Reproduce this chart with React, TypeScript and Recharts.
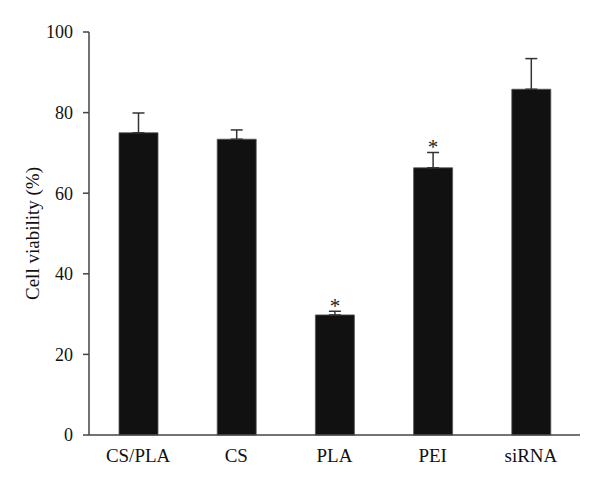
import { Bar, BarChart, ErrorBar, LabelList, XAxis, YAxis } from 'recharts';

const groups = ['CS/PLA', 'CS', 'PLA', 'PEI', 'siRNA'];
const viability = [75.0, 73.4, 29.8, 66.3, 85.8];
const errorUp = [4.9, 2.3, 0.9, 3.8, 7.6];
const marks = ['', '', '*', '*', ''];
const yTicks = [0, 20, 40, 60, 80, 100];

const data = groups.map((g, i) => ({
  group: g,
  value: viability[i],
  err: [0, errorUp[i]],
  up: errorUp[i],
  mark: marks[i],
}));

const font = '"Liberation Serif", "Times New Roman", serif';

// asterisk drawn just above the error bar cap
function Star(props: any) {
  const { x, y, width, height, index } = props;
  const d = data[index];
  if (!d || !d.mark) return null;
  const perUnit = height / d.value;
  const top = y - d.up * perUnit;
  return (
    <text x={x + width / 2} y={top + 2} textAnchor="middle" fontSize={21} fontFamily={font} fill="#222">
      {d.mark}
    </text>
  );
}

export default function App() {
  return (
    <div style={{ position: 'absolute', left: 0, top: 0, background: '#fff' }}>
      <BarChart
        width={600}
        height={489}
        data={data}
        margin={{ top: 32, right: 20, bottom: 24, left: 0 }}
        barCategoryGap={0}
      >
        <XAxis
          dataKey="group"
          height={30}
          axisLine={{ stroke: '#444', strokeWidth: 1.5 }}
          tickLine={false}
          tickSize={0}
          tickMargin={14}
          tick={{ fontSize: 19, fontFamily: font, fill: '#111' }}
        />
        <YAxis
          width={89}
          domain={[0, 100]}
          ticks={yTicks}
          axisLine={{ stroke: '#444', strokeWidth: 1.5 }}
          tickLine={{ stroke: '#444', strokeWidth: 1.5 }}
          tickSize={6}
          tickMargin={10}
          tick={{ fontSize: 18, fontFamily: font, fill: '#111' }}
          label={{
            value: 'Cell viability (%)',
            angle: -90,
            position: 'insideLeft',
            dx: 27,
            style: { fontSize: 19, fontFamily: font, fill: '#111', textAnchor: 'middle' },
          }}
        />
        <Bar dataKey="value" fill="#111111" stroke="#555" strokeWidth={0.8} barSize={39} isAnimationActive={false}>
          <ErrorBar dataKey="err" direction="y" width={6} stroke="#333" strokeWidth={1.5} />
          <LabelList dataKey="mark" content={<Star />} />
        </Bar>
      </BarChart>
    </div>
  );
}
